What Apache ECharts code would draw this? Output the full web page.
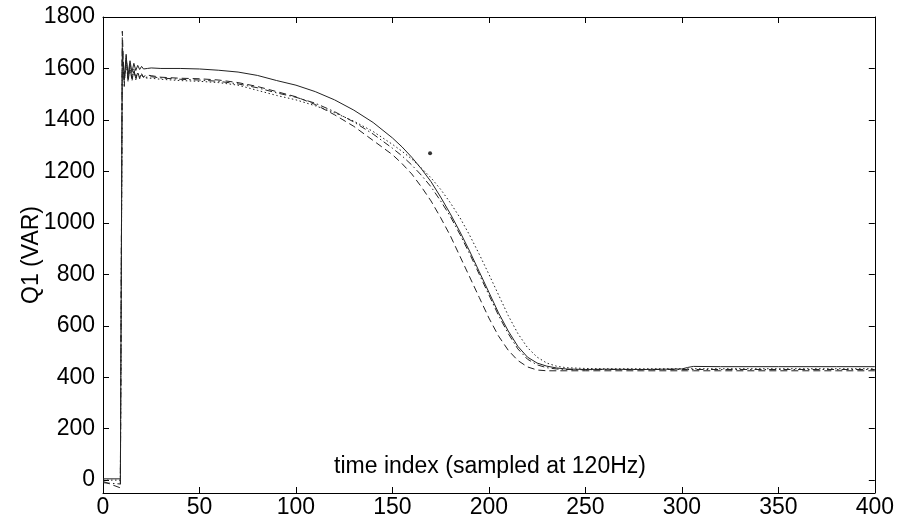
<!DOCTYPE html>
<html>
<head>
<meta charset="utf-8">
<script src="https://cdn.jsdelivr.net/npm/echarts@6/dist/echarts.min.js"></script>
<style>
html,body{margin:0;padding:0;background:#fff;}
#chart{width:897px;height:524px;}
</style>
</head>
<body>
<div id="chart"></div>
<script>
// ---- data ----
const timeIndex = [0,9,10,11,12,13,14,15,16,17,18,19,20,21,22,23,25,30,40,50,60,70,80,90,100,110,120,130,140,150,155,160,165,170,175,180,185,190,195,200,205,210,215,220,225,230,235,240,250,260,280,300,303,306,320,350,380,400];
const solidQ = [5,5,1665,1560,1648,1575,1630,1585,1620,1592,1612,1596,1608,1598,1604,1600,1602,1600,1600,1598,1593,1586,1573,1553,1535,1510,1478,1438,1390,1330,1295,1255,1210,1160,1100,1035,965,890,810,730,650,580,520,478,455,443,436,432,430,431,430,432,438,442,441,441,441,441];
const dashedQ = [-5,-30,1745,1530,1655,1545,1615,1550,1598,1556,1588,1560,1580,1565,1575,1568,1572,1566,1562,1560,1555,1545,1530,1510,1490,1460,1420,1375,1320,1265,1230,1190,1140,1085,1020,950,870,790,710,630,560,505,465,440,428,425,425,425,425,425,425,425,425,425,425,425,425,425];
const dashDotQ = [-10,-15,1700,1545,1640,1555,1605,1560,1590,1562,1582,1565,1576,1566,1572,1566,1568,1563,1558,1555,1550,1540,1525,1505,1488,1465,1432,1392,1345,1290,1260,1225,1185,1140,1085,1025,955,880,800,720,640,570,510,470,448,437,432,430,429,430,430,430,430,430,430,430,430,430];
const dottedQ = [0,0,1630,1555,1615,1560,1600,1565,1590,1566,1582,1568,1576,1566,1570,1562,1562,1558,1553,1550,1545,1535,1515,1495,1478,1455,1428,1395,1355,1305,1278,1248,1213,1175,1130,1078,1020,952,878,800,720,640,570,515,478,455,443,437,434,433,433,433,433,433,433,433,433,433];
const strayPoint = [[169.5, 1270]];
const yTicks = [0,200,400,600,800,1000,1200,1400,1600,1800];
const xLabel = 'time index (sampled at 120Hz)';
const yLabel = 'Q1 (VAR)';

const pairs = v => timeIndex.map((t, i) => [t, v[i]]);
const font = '"Liberation Sans", Arial, sans-serif';
const fs = 23;
const lineCol = '#222';
const plain = v => String(v);

function lineSeries(vals, type) {
  return {
    type: 'line', data: pairs(vals), showSymbol: false, smooth: false,
    animation: false, silent: true,
    lineStyle: { color: lineCol, width: 1, type: type }
  };
}

const axisCommonX = {
  type: 'value', min: 0, max: 400, interval: 50,
  axisLine: { show: true, onZero: false, lineStyle: { color: '#000', width: 1 } },
  axisTick: { show: true, inside: true, length: 6, lineStyle: { color: '#000' } },
  splitLine: { show: false }
};
const axisCommonY = {
  type: 'value', min: -50, max: 1800,
  axisLine: { show: true, onZero: false, lineStyle: { color: '#000', width: 1 } },
  axisTick: { show: true, inside: true, length: 6, customValues: yTicks, lineStyle: { color: '#000' } },
  splitLine: { show: false }
};

const chart = echarts.init(document.getElementById('chart'), null, { renderer: 'canvas' });
chart.setOption({
  animation: false,
  backgroundColor: '#fff',
  grid: { left: 103, right: 20, top: 17, bottom: 31, containLabel: false },
  xAxis: [
    Object.assign({}, axisCommonX, {
      position: 'bottom',
      axisLabel: { show: true, formatter: plain, color: '#000', fontSize: fs, fontFamily: font, margin: 3 }
    }),
    Object.assign({}, axisCommonX, { position: 'top', axisLabel: { show: false } })
  ],
  yAxis: [
    Object.assign({}, axisCommonY, {
      position: 'left',
      name: yLabel, nameLocation: 'middle', nameGap: 60, nameRotate: 90, nameMoveOverlap: false,
      nameTextStyle: { color: '#000', fontSize: fs, fontFamily: font },
      axisLabel: { show: true, customValues: yTicks, formatter: plain, color: '#000', fontSize: fs, fontFamily: font, margin: 8 }
    }),
    Object.assign({}, axisCommonY, { position: 'right', axisLabel: { show: false } })
  ],
  graphic: [{
    type: 'text', x: 490, y: 467, silent: true,
    style: { text: xLabel, fill: '#000', font: fs + 'px ' + font, textAlign: 'center', textVerticalAlign: 'middle' }
  }],
  series: [
    lineSeries(solidQ, 'solid'),
    lineSeries(dashedQ, [7, 4]),
    lineSeries(dashDotQ, [7, 3, 1.5, 3]),
    lineSeries(dottedQ, [1.5, 2.5]),
    { type: 'scatter', data: strayPoint, symbolSize: 4, itemStyle: { color: '#000' }, silent: true, animation: false }
  ]
});
</script>
</body>
</html>
